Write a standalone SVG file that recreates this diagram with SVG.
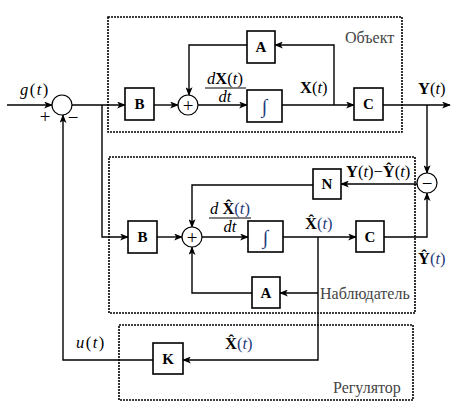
<svg xmlns="http://www.w3.org/2000/svg" width="456" height="408" viewBox="0 0 456 408">
<style>
.ln{fill:none;stroke:#000;stroke-width:1.4}
.bx{fill:#fff;stroke:#000;stroke-width:1.6}
.cr{fill:#fff;stroke:#000;stroke-width:1.2}
.ds{fill:none;stroke:#000;stroke-width:1.6;stroke-dasharray:2,1}
text{font-family:"Liberation Serif","Times New Roman","DejaVu Serif",serif}
.bl{font-weight:bold;font-size:15px;text-anchor:middle}
.mt{font-size:16.5px}
.it{font-style:italic}
.b{font-weight:bold}
.bt{fill:#1f3a7a}
.lb{font-size:16px;fill:#444}
.op{font-size:19px;text-anchor:middle}
.ig{font-size:20px;text-anchor:middle;fill:#1f3a7a}
.sp{letter-spacing:1.5px}
</style>
<defs>
<marker id="ar" viewBox="0 0 10 8" refX="9" refY="4" markerWidth="9" markerHeight="7" orient="auto" markerUnits="userSpaceOnUse">
<path d="M0,0 L10,4 L0,8 L2.5,4 z" fill="#000"/>
</marker>
</defs>
<g id="frames">
<rect class="ds" x="108" y="17" width="294" height="115"/>
<rect class="ds" x="109" y="157" width="306" height="156"/>
<rect class="ds" x="119" y="325" width="294" height="75"/>
<text class="lb" x="345" y="43">Объект</text>
<text class="lb" x="320" y="299">Наблюдатель</text>
<text class="lb" x="333" y="393">Регулятор</text>
</g>
<g id="connectors">
<path class="ln" d="M7,105 H52" marker-end="url(#ar)"/>
<path class="ln" d="M72,105 H125" marker-end="url(#ar)"/>
<path class="ln" d="M102,105 V237 H128" marker-end="url(#ar)"/>
<path class="ln" d="M154,105 H178" marker-end="url(#ar)"/>
<path class="ln" d="M198,105 H247" marker-end="url(#ar)"/>
<path class="ln" d="M282,105 H354" marker-end="url(#ar)"/>
<path class="ln" d="M334,105 V45 H275" marker-end="url(#ar)"/>
<path class="ln" d="M247,45 H189 V95" marker-end="url(#ar)"/>
<path class="ln" d="M383,105 H450" marker-end="url(#ar)"/>
<path class="ln" d="M427,105 V173" marker-end="url(#ar)"/>
<path class="ln" d="M417,184 H341" marker-end="url(#ar)"/>
<path class="ln" d="M313,185 H192 V227" marker-end="url(#ar)"/>
<path class="ln" d="M157,237 H182" marker-end="url(#ar)"/>
<path class="ln" d="M202,237 H248" marker-end="url(#ar)"/>
<path class="ln" d="M283,237 H356" marker-end="url(#ar)"/>
<path class="ln" d="M384,237 H427 V193" marker-end="url(#ar)"/>
<path class="ln" d="M318,237 V360 H183" marker-end="url(#ar)"/>
<path class="ln" d="M318,293 H280" marker-end="url(#ar)"/>
<path class="ln" d="M252,293 H192 V247" marker-end="url(#ar)"/>
<path class="ln" d="M153,360 H63 V115" marker-end="url(#ar)"/>
</g>
<g id="sum1"><circle class="cr" cx="62" cy="105" r="10"/></g>
<g id="sum2"><circle class="cr" cx="188" cy="105" r="10"/><text class="op" x="188" y="111.5">+</text></g>
<g id="sum3"><circle class="cr" cx="192" cy="237" r="10"/><text class="op" x="192" y="243.5">+</text></g>
<g id="diff"><circle class="cr" cx="427" cy="183" r="10"/><text class="op" x="427" y="189.5">−</text></g>
<g id="B1"><rect class="bx" x="125" y="88" width="29" height="32"/><text class="bl" x="139.5" y="109">B</text></g>
<g id="A1"><rect class="bx" x="247" y="31" width="28" height="32"/><text class="bl" x="261" y="52">A</text></g>
<g id="I1"><rect class="bx" x="247" y="90" width="35" height="32"/><text class="ig" x="264.5" y="113">∫</text></g>
<g id="C1"><rect class="bx" x="354" y="88" width="29" height="32"/><text class="bl" x="368.5" y="109">C</text></g>
<g id="N"><rect class="bx" x="313" y="169" width="28" height="30"/><text class="bl" x="327" y="189">N</text></g>
<g id="B2"><rect class="bx" x="128" y="221" width="29" height="32"/><text class="bl" x="142.5" y="242">B</text></g>
<g id="I2"><rect class="bx" x="248" y="221" width="35" height="31"/><text class="ig" x="265.5" y="244">∫</text></g>
<g id="C2"><rect class="bx" x="356" y="221" width="28" height="31"/><text class="bl" x="370" y="242">C</text></g>
<g id="A2"><rect class="bx" x="252" y="277" width="28" height="31"/><text class="bl" x="266" y="298">A</text></g>
<g id="K"><rect class="bx" x="153" y="343" width="30" height="31"/><text class="bl" x="168" y="364">K</text></g>
<g id="labels">
<text class="mt sp" x="20" y="95"><tspan class="it">g</tspan>(<tspan class="it">t</tspan>)</text>
<text class="op" x="45" y="123">+</text>
<text class="op" x="73" y="124">−</text>
<text class="mt" x="225" y="84" text-anchor="middle"><tspan class="it">d</tspan><tspan class="b">X</tspan>(<tspan class="it">t</tspan>)</text>
<line x1="205" y1="88" x2="246" y2="88" stroke="#000" stroke-width="1"/>
<text class="mt it" x="225" y="102" text-anchor="middle">dt</text>
<text class="mt" x="300" y="93"><tspan class="b">X</tspan>(<tspan class="it">t</tspan>)</text>
<text class="mt" x="418" y="94"><tspan class="b">Y</tspan>(<tspan class="it">t</tspan>)</text>
<text class="mt" x="346" y="177"><tspan class="b">Y</tspan>(<tspan class="it">t</tspan>)−<tspan class="b">Ŷ</tspan>(<tspan class="it">t</tspan>)</text>
<text class="mt" x="230" y="214" text-anchor="middle"><tspan class="it">d</tspan> <tspan class="b">X̂</tspan><tspan class="bt">(<tspan class="it">t</tspan>)</tspan></text>
<line x1="209" y1="218" x2="251" y2="218" stroke="#000" stroke-width="1"/>
<text class="mt it" x="230" y="232" text-anchor="middle">dt</text>
<text class="mt" x="305" y="229"><tspan class="b">X̂</tspan><tspan class="bt">(<tspan class="it">t</tspan>)</tspan></text>
<text class="mt" x="418" y="264"><tspan class="b">Ŷ</tspan><tspan class="bt">(<tspan class="it">t</tspan>)</tspan></text>
<text class="mt sp" x="76" y="348"><tspan class="it">u</tspan>(<tspan class="it">t</tspan>)</text>
<text class="mt" x="225" y="349"><tspan class="b">X̂</tspan><tspan class="bt">(<tspan class="it">t</tspan>)</tspan></text>
</g>
</svg>
